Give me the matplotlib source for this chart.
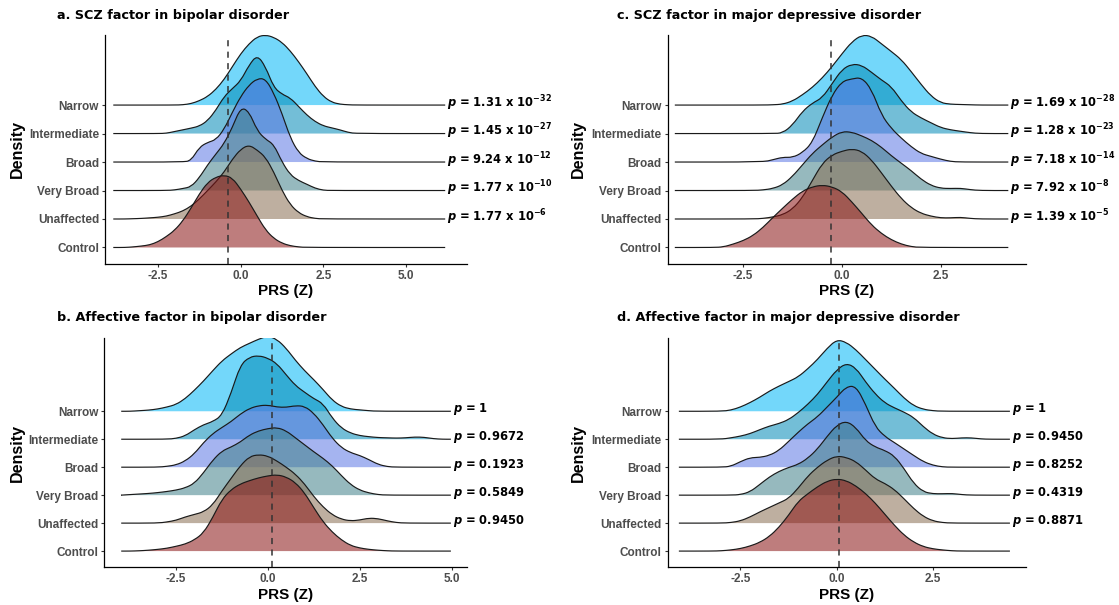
import matplotlib.pyplot as plt
import numpy as np
from matplotlib.path import Path
from matplotlib.patches import PathPatch

plt.rcParams["font.family"] = "Liberation Sans"
plt.rcParams["axes.unicode_minus"] = False
plt.rcParams["mathtext.fontset"] = "custom"
plt.rcParams["mathtext.rm"] = "DejaVu Sans:bold"
plt.rcParams["mathtext.it"] = "DejaVu Sans:bold:italic"
plt.rcParams["mathtext.bf"] = "DejaVu Sans:bold"

groups = ["Control", "Unaffected", "Very Broad", "Broad", "Intermediate", "Narrow"]
fills = ["#891313", "#896E52", "#408089", "#5B77E4", "#0089B6", "#00B6F6"]
STEP = 0.25  # spacing of the density samples (PRS units)

# a. SCZ factor in bipolar disorder -- ridge heights in row units, Control..Narrow
bd_scz_start = [-3.5, -3.5, -2.25, -1.75, -2.5, -2.0]
bd_scz_control = [0.0, 0.02, 0.05, 0.09, 0.2, 0.38, 0.6, 0.93, 1.38, 1.88, 2.28, 2.47, 2.54,
                  2.44, 2.05, 1.6, 1.1, 0.62, 0.32, 0.15, 0.06, 0.02, 0.0]
bd_scz_unaffected = [0.0, 0.01, 0.02, 0.04, 0.06, 0.1, 0.18, 0.28, 0.45, 0.7, 1.0, 1.3, 1.65,
                     2.1, 2.45, 2.6, 2.42, 2.17, 1.65, 1.0, 0.5, 0.22, 0.08, 0.02, 0.0]
bd_scz_verybroad = [0.0, 0.02, 0.07, 0.13, 0.45, 0.9, 1.28, 1.65, 2.22, 2.92, 2.78, 2.1, 1.8,
                    1.62, 1.0, 0.55, 0.35, 0.22, 0.08, 0.01, 0.0]
bd_scz_broad = [0.0, 0.05, 0.52, 0.69, 0.78, 1.15, 1.75, 2.3, 2.7, 2.93, 2.92, 2.42, 1.7, 0.85,
                0.33, 0.12, 0.03, 0.0]
bd_scz_intermediate = [0.0, 0.01, 0.07, 0.13, 0.19, 0.26, 0.45, 0.82, 1.3, 1.58, 1.85, 2.4, 2.76,
                       2.35, 1.62, 1.38, 1.25, 0.95, 0.65, 0.42, 0.27, 0.2, 0.13, 0.04, 0.0]
bd_scz_narrow = [0.0, 0.01, 0.05, 0.15, 0.3, 0.55, 0.9, 1.35, 1.8, 2.15, 2.4, 2.46, 2.38, 2.2,
                 1.9, 1.52, 1.1, 0.65, 0.3, 0.1, 0.03, 0.01, 0.0]
# p-values versus controls, Unaffected..Narrow
bd_scz_p_mant = ["1.77", "1.77", "9.24", "1.45", "1.31"]
bd_scz_p_exp = [-6, -10, -12, -27, -32]

# b. Affective factor in bipolar disorder
bd_aff_start = [-3.75, -3.0, -4.0, -3.0, -2.75, -3.75]
bd_aff_control = [0.0, 0.01, 0.03, 0.06, 0.1, 0.17, 0.25, 0.4, 0.65, 1.2, 1.85, 2.2, 2.4, 2.52,
                  2.62, 2.69, 2.73, 2.65, 2.45, 2.08, 1.55, 1.05, 0.68, 0.4, 0.2, 0.11, 0.06,
                  0.03, 0.01, 0.0]
bd_aff_unaffected = [0.0, 0.04, 0.1, 0.22, 0.31, 0.4, 0.65, 1.15, 1.6, 2.05, 2.38, 2.45, 2.4,
                     2.22, 2.0, 1.75, 1.4, 0.95, 0.58, 0.3, 0.14, 0.08, 0.11, 0.18, 0.16, 0.08,
                     0.02, 0.0]
bd_aff_verybroad = [0.0, 0.02, 0.04, 0.06, 0.09, 0.13, 0.18, 0.26, 0.42, 0.8, 1.25, 1.58, 1.72,
                    1.9, 2.15, 2.3, 2.38, 2.42, 2.3, 2.05, 1.8, 1.55, 1.32, 1.05, 0.7, 0.38,
                    0.18, 0.08, 0.02, 0.0]
bd_aff_broad = [0.0, 0.03, 0.08, 0.22, 0.48, 0.88, 1.2, 1.42, 1.63, 1.9, 2.1, 2.2, 2.22, 2.15,
                2.14, 2.2, 2.18, 1.93, 1.52, 1.04, 0.7, 0.52, 0.42, 0.27, 0.1, 0.02, 0.0]
bd_aff_intermediate = [0.0, 0.03, 0.12, 0.34, 0.52, 0.63, 0.85, 1.65, 2.65, 2.94, 2.99, 2.9, 2.7,
                       2.3, 1.92, 1.68, 1.45, 1.28, 0.76, 0.4, 0.22, 0.13, 0.09, 0.06, 0.05,
                       0.04, 0.05, 0.08, 0.07, 0.02, 0.0]
bd_aff_narrow = [0.0, 0.02, 0.04, 0.08, 0.15, 0.24, 0.45, 0.75, 1.08, 1.45, 1.8, 2.05, 2.28,
                 2.43, 2.58, 2.69, 2.57, 2.25, 1.82, 1.45, 1.13, 0.78, 0.4, 0.17, 0.08, 0.05,
                 0.02, 0.0]
bd_aff_p = ["0.9450", "0.5849", "0.1923", "0.9672", "1"]

# c. SCZ factor in major depressive disorder
mdd_scz_start = [-3.25, -2.25, -2.25, -2.0, -1.75, -2.0]
mdd_scz_control = [0.0, 0.02, 0.12, 0.24, 0.42, 0.7, 1.05, 1.38, 1.7, 1.98, 2.13, 2.19, 2.13,
                   1.96, 1.6, 1.2, 0.79, 0.49, 0.27, 0.12, 0.03, 0.0]
mdd_scz_unaffected = [0.0, 0.02, 0.07, 0.15, 0.35, 0.75, 1.35, 1.95, 2.25, 2.38, 2.46, 2.38,
                      2.07, 1.62, 1.15, 0.72, 0.4, 0.2, 0.1, 0.04, 0.04, 0.06, 0.02, 0.0]
mdd_scz_verybroad = [0.0, 0.02, 0.07, 0.2, 0.5, 0.9, 1.3, 1.6, 1.88, 2.07, 2.05, 1.92, 1.76,
                     1.52, 1.22, 0.96, 0.7, 0.4, 0.18, 0.08, 0.07, 0.08, 0.03, 0.0]
mdd_scz_broad = [0.0, 0.08, 0.17, 0.16, 0.33, 0.68, 1.55, 2.35, 2.83, 2.92, 2.97, 2.55, 1.65,
                 1.18, 0.84, 0.54, 0.3, 0.2, 0.1, 0.02, 0.0]
mdd_scz_intermediate = [0.0, 0.02, 0.3, 0.78, 1.07, 1.25, 1.75, 2.25, 2.44, 2.4, 2.15, 1.88,
                        1.65, 1.15, 0.76, 0.55, 0.38, 0.21, 0.13, 0.08, 0.03, 0.0]
mdd_scz_narrow = [0.0, 0.01, 0.03, 0.14, 0.36, 0.62, 0.95, 1.35, 1.8, 2.22, 2.46, 2.42, 2.15,
                  1.88, 1.6, 1.18, 0.73, 0.32, 0.08, 0.03, 0.02, 0.01, 0.0]
mdd_scz_p_mant = ["1.39", "7.92", "7.18", "1.28", "1.69"]
mdd_scz_p_exp = [-5, -8, -14, -23, -28]

# d. Affective factor in major depressive disorder
mdd_aff_start = [-3.25, -3.0, -2.75, -3.0, -3.0, -3.0]
mdd_aff_control = [0.0, 0.01, 0.04, 0.09, 0.18, 0.31, 0.52, 0.85, 1.28, 1.78, 2.05, 2.3, 2.5,
                   2.58, 2.52, 2.33, 2.06, 1.72, 1.32, 0.92, 0.57, 0.32, 0.16, 0.08, 0.04,
                   0.01, 0.0]
mdd_aff_unaffected = [0.0, 0.02, 0.08, 0.22, 0.4, 0.56, 0.72, 0.88, 1.25, 1.68, 2.0, 2.25, 2.4,
                      2.35, 2.2, 1.9, 1.58, 1.42, 1.2, 0.87, 0.52, 0.24, 0.08, 0.02, 0.0]
mdd_aff_verybroad = [0.0, 0.02, 0.12, 0.38, 0.65, 0.85, 0.99, 1.1, 1.32, 1.65, 2.1, 2.5, 2.65,
                     2.42, 1.95, 1.72, 1.6, 1.4, 0.95, 0.42, 0.12, 0.05, 0.05, 0.06, 0.02, 0.0]
mdd_aff_broad = [0.0, 0.03, 0.2, 0.34, 0.35, 0.42, 0.6, 0.92, 1.25, 1.55, 1.8, 2.15, 2.5, 2.88,
                 2.9, 2.25, 1.45, 1.1, 0.88, 0.65, 0.42, 0.2, 0.07, 0.01, 0.0]
mdd_aff_intermediate = [0.0, 0.05, 0.11, 0.2, 0.34, 0.47, 0.56, 0.7, 0.95, 1.25, 1.6, 2.05,
                        2.48, 2.72, 2.55, 2.05, 1.62, 1.3, 1.12, 0.97, 0.78, 0.45, 0.18, 0.05,
                        0.02, 0.05, 0.05, 0.01, 0.0]
mdd_aff_narrow = [0.0, 0.04, 0.15, 0.31, 0.5, 0.72, 0.9, 1.06, 1.23, 1.52, 1.85, 2.25, 2.56,
                  2.47, 2.2, 1.85, 1.5, 1.15, 0.82, 0.47, 0.2, 0.07, 0.02, 0.0]
mdd_aff_p = ["0.8871", "0.4319", "0.8252", "0.9450", "1"]


def sci_label(mant, exp):
    return rf"$\it{{p}}$ = {mant} x 10$^{{{exp}}}$"


def plain_label(val):
    return rf"$\it{{p}}$ = {val}"


def smooth_path(xs, ys, base=None):
    """Quadratic-Bezier path through the midpoints of the sampled density."""
    pts = np.column_stack([xs, ys])
    mids = (pts[:-1] + pts[1:]) / 2
    verts = [pts[0], mids[0]]
    codes = [Path.MOVETO, Path.LINETO]
    for i in range(1, len(pts) - 1):
        verts += [pts[i], mids[i]]
        codes += [Path.CURVE3, Path.CURVE3]
    verts.append(pts[-1])
    codes.append(Path.LINETO)
    if base is not None:
        verts += [(xs[-1], base), (xs[0], base), (xs[0], base)]
        codes += [Path.LINETO, Path.LINETO, Path.CLOSEPOLY]
    return Path(verts, codes)


W, H = 1119, 605
fig = plt.figure(figsize=(W / 100, H / 100), dpi=100)


def add_panel(left, top, right, bottom):
    return fig.add_axes([left / W, 1 - bottom / H, (right - left) / W, (bottom - top) / H])


def draw_panel(ax, title, tpos, starts, curves, data_range, xlim, ytop, vline, ticks,
               labels, dens_x):
    lo, hi = data_range
    # top ridge first so the lower ones sit in front
    for row in range(len(groups) - 1, -1, -1):
        h = np.asarray(curves[row])
        xs = np.concatenate([[lo], starts[row] + STEP * np.arange(len(h)), [hi]])
        ys = row + 1 + np.concatenate([[0.0], h, [0.0]])
        z = 10 - row
        ax.add_patch(PathPatch(smooth_path(xs, ys, base=row + 1), facecolor=fills[row],
                               alpha=0.55, lw=0, zorder=z))
        ax.add_patch(PathPatch(smooth_path(xs, ys), facecolor="none", edgecolor="#1a1a1a",
                               lw=0.85, zorder=z + 0.5))
    ax.axvline(vline, color="#333333", lw=1.1, ls=(0, (4, 3.5)), zorder=20)

    # p-values sit at the right end of each case ridge (Unaffected..Narrow)
    for row, lab in zip(range(2, 7), labels):
        ax.text(hi + 0.05, row + 0.08, lab, ha="left", va="center", fontsize=8.3,
                fontweight="bold", family="DejaVu Sans", color="black", clip_on=False)

    ax.set_xlim(*xlim)
    ax.set_ylim(0.42, ytop)
    ax.set_yticks(range(1, 7))
    ax.set_yticklabels(groups)
    ax.set_xticks(ticks)
    ax.set_xticklabels([f"{t:.1f}" for t in ticks])
    ax.tick_params(axis="both", length=2.5, width=0.8, color="#333333",
                   labelcolor="#4d4d4d", labelsize=8.5, pad=1.8)
    for lbl in ax.get_xticklabels() + ax.get_yticklabels():
        lbl.set_fontweight("bold")
    ax.spines[["top", "right"]].set_visible(False)
    ax.spines[["left", "bottom"]].set_linewidth(0.9)
    ax.patch.set_alpha(0)

    ax.text(0.5, -0.12, "PRS (Z)", transform=ax.transAxes, ha="center", va="center",
            fontsize=11, fontweight="bold")
    bb = ax.get_position()
    fig.text(dens_x / W, bb.y0 + bb.height / 2, "Density", rotation=90, ha="center",
             va="center", fontsize=11.5, fontweight="bold")
    fig.text(tpos[0] / W, 1 - tpos[1] / H, title, ha="left", va="center", fontsize=9.2,
             fontweight="bold", family="DejaVu Sans")


ax_a = add_panel(105, 35, 466.7, 264)
draw_panel(ax_a, "a. SCZ factor in bipolar disorder", (57, 16), bd_scz_start,
           [bd_scz_control, bd_scz_unaffected, bd_scz_verybroad, bd_scz_broad,
            bd_scz_intermediate, bd_scz_narrow],
           (-3.85, 6.18), (-4.10, 6.83), 8.46, -0.39, [-2.5, 0.0, 2.5, 5.0],
           [sci_label(m, e) for m, e in zip(bd_scz_p_mant, bd_scz_p_exp)], 17)

ax_b = add_panel(104.3, 338, 466.7, 567.3)
draw_panel(ax_b, "b. Affective factor in bipolar disorder", (57, 318), bd_aff_start,
           [bd_aff_control, bd_aff_unaffected, bd_aff_verybroad, bd_aff_broad,
            bd_aff_intermediate, bd_aff_narrow],
           (-3.99, 4.98), (-4.45, 5.41), 8.62, 0.12, [-2.5, 0.0, 2.5, 5.0],
           [plain_label(v) for v in bd_aff_p], 17)

ax_c = add_panel(667.7, 35, 1025.7, 264)
draw_panel(ax_c, "c. SCZ factor in major depressive disorder", (617, 16), mdd_scz_start,
           [mdd_scz_control, mdd_scz_unaffected, mdd_scz_verybroad, mdd_scz_broad,
            mdd_scz_intermediate, mdd_scz_narrow],
           (-4.23, 4.21), (-4.41, 4.65), 8.46, -0.27, [-2.5, 0.0, 2.5],
           [sci_label(m, e) for m, e in zip(mdd_scz_p_mant, mdd_scz_p_exp)], 578)

ax_d = add_panel(667.7, 338, 1025.7, 567.3)
draw_panel(ax_d, "d. Affective factor in major depressive disorder", (617, 318),
           mdd_aff_start,
           [mdd_aff_control, mdd_aff_unaffected, mdd_aff_verybroad, mdd_aff_broad,
            mdd_aff_intermediate, mdd_aff_narrow],
           (-4.1, 4.5), (-4.39, 4.91), 8.62, 0.06, [-2.5, 0.0, 2.5],
           [plain_label(v) for v in mdd_aff_p], 578)

fig.savefig("out.png", dpi=100, facecolor="white")
